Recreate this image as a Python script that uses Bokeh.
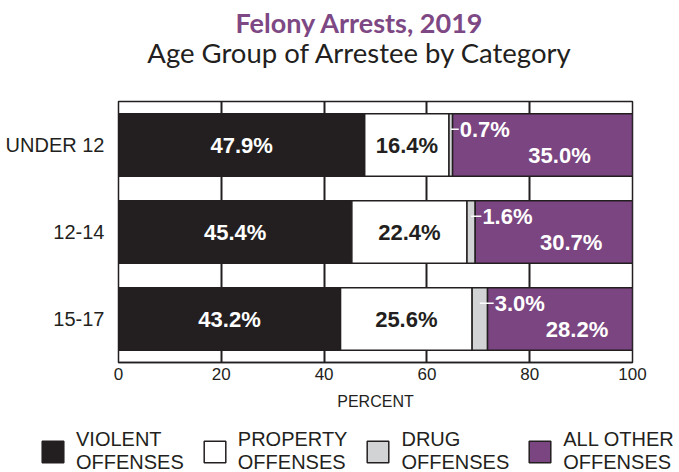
from bokeh.plotting import figure
from bokeh.models import (Range1d, FactorRange, FixedTicker, Legend, LegendItem,
                          ColumnDataSource, Div)
from bokeh.layouts import column, row
from bokeh.transform import dodge
from bokeh.core.properties import value
from bokeh.embed import file_html
from bokeh.resources import INLINE

# ---- data ----
ages = ["UNDER 12", "12-14", "15-17"]
violent = [47.9, 45.4, 43.2]
prop = [16.4, 22.4, 25.6]
drug = [0.7, 1.6, 3.0]
other = [35.0, 30.7, 28.2]
series_names = ["VIOLENT\nOFFENSES", "PROPERTY\nOFFENSES", "DRUG\nOFFENSES", "ALL OTHER\nOFFENSES"]
x_ticks = [0, 20, 40, 60, 80, 100]
title_text = "Felony Arrests, 2019"
subtitle_text = "Age Group of Arrestee by Category"
x_label = "PERCENT"

# ---- styles ----
DARK = "#231f20"
PURPLE = "#7a4580"
GRAY = "#d1d3d4"
colors = [DARK, "#ffffff", GRAY, PURPLE]
FONT = "Liberation Sans"

head = Div(
    text=(f'<div style="margin-left:39px;width:640px;text-align:center;padding-top:8px;">'
          f'<div style="font-family:Lato;font-weight:bold;font-size:27px;line-height:30px;'
          f'color:#7d4884;white-space:nowrap;">{title_text}</div>'
          f'<div style="font-family:Lato;font-size:27.5px;line-height:30px;color:{DARK};'
          f'white-space:nowrap;">{subtitle_text}</div></div>'),
    width=679, height=75, margin=0)

p = figure(width=679, height=350, output_backend="svg", toolbar_location=None,
           x_range=Range1d(0, 100), y_range=FactorRange(factors=list(reversed(ages))),
           min_border_left=118, min_border_right=47, min_border_top=26, min_border_bottom=63,
           margin=0)
p.background_fill_color = "white"
p.border_fill_color = "white"
p.outline_line_color = DARK
p.outline_line_width = 1.5

# grid
p.ygrid.grid_line_color = None
p.xgrid.ticker = FixedTicker(ticks=x_ticks)
p.xgrid.grid_line_color = DARK
p.xgrid.grid_line_width = 2

# axes
xa = p.xaxis[0]
xa.ticker = FixedTicker(ticks=x_ticks)
xa.axis_line_color = DARK
xa.axis_line_width = 1.5
xa.major_tick_out = 0
xa.major_tick_in = 0
xa.minor_tick_out = 0
xa.minor_tick_in = 0
xa.major_label_standoff = 5
xa.major_label_text_font = FONT
xa.major_label_text_font_size = "17px"
xa.major_label_text_color = DARK
xa.axis_label = x_label
xa.axis_label_text_font = FONT
xa.axis_label_text_font_size = "16px"
xa.axis_label_text_font_style = "normal"
xa.axis_label_text_color = DARK
xa.axis_label_standoff = 10

ya = p.yaxis[0]
ya.axis_line_color = None
ya.major_tick_line_color = None
ya.minor_tick_line_color = None
ya.major_label_standoff = 8
ya.major_label_text_font = FONT
ya.major_label_text_font_size = "20px"
ya.major_label_text_color = DARK

# bars
series = [violent, prop, drug, other]
acc = [0.0] * len(ages)
renderers = []
for vals, col in zip(series, colors):
    left = list(acc)
    right = [a + v for a, v in zip(acc, vals)]
    src = ColumnDataSource(dict(age=ages, left=left, right=right, val=vals,
                                center=[(l + r) / 2 for l, r in zip(left, right)],
                                label=[f"{v:.1f}%" for v in vals]))
    r = p.hbar(y="age", left="left", right="right", height=0.72, source=src,
               fill_color=col, line_color=DARK, line_width=1.5)
    renderers.append((r, src))
    acc = right

# value labels
(rv, sv), (rp, sp), (rd, sd), (ro, so) = renderers
lab_kw = dict(text_font=value(FONT), text_font_style="bold", text_font_size="22px",
              text_baseline="middle")
p.text(x="center", y="age", text="label", source=sv, text_color="white",
       text_align="center", **lab_kw)
p.text(x="center", y="age", text="label", source=sp, text_color=DARK,
       text_align="center", **lab_kw)
p.text(x="center", y="age", text="label", source=so, text_color="white",
       text_align="center", x_offset=17, y_offset=10, **lab_kw)

# drug leader lines + labels
sd.data["lead_end"] = [r_ + 1.2 for r_ in sd.data["right"]]
p.segment(x0="center", x1="lead_end", y0=dodge("age", 0.18, range=p.y_range),
          y1=dodge("age", 0.18, range=p.y_range), source=sd,
          line_color="white", line_width=1.5)
p.text(x="lead_end", y=dodge("age", 0.18, range=p.y_range), text="label", source=sd,
       text_color="white", text_align="left", x_offset=1, **lab_kw)

# legend strip below the chart: the same series as hidden renderers, only the key shows
lg = figure(width=679, height=47, output_backend="svg", toolbar_location=None,
            x_range=Range1d(0, 100), y_range=FactorRange(factors=list(reversed(ages))),
            x_axis_location=None, y_axis_location=None,
            min_border_left=0, min_border_right=0, min_border_top=0, min_border_bottom=0,
            margin=0)
lg.outline_line_color = None
lg.xgrid.visible = False
lg.ygrid.visible = False
lg_items = []
for n, col, (_, src) in zip(series_names, colors, renderers):
    rr = lg.hbar(y="age", left="left", right="right", height=0.72, source=src,
                 fill_color=col, line_color=DARK, line_width=1.5, visible=False)
    lg_items.append(LegendItem(label=value(n), renderers=[rr]))
legend = Legend(items=lg_items, orientation="horizontal", location=(39, -2),
                glyph_width=27, glyph_height=27, label_standoff=10, spacing=17,
                padding=0, margin=0, border_line_color=None, background_fill_alpha=0,
                inactive_fill_alpha=0,
                label_text_font=FONT, label_text_font_size="20px",
                label_text_line_height=0.78, label_text_color=DARK)
lg.add_layout(legend)

open("out.html", "w").write(file_html(column(head, p, row(lg, margin=0), spacing=0), INLINE))
